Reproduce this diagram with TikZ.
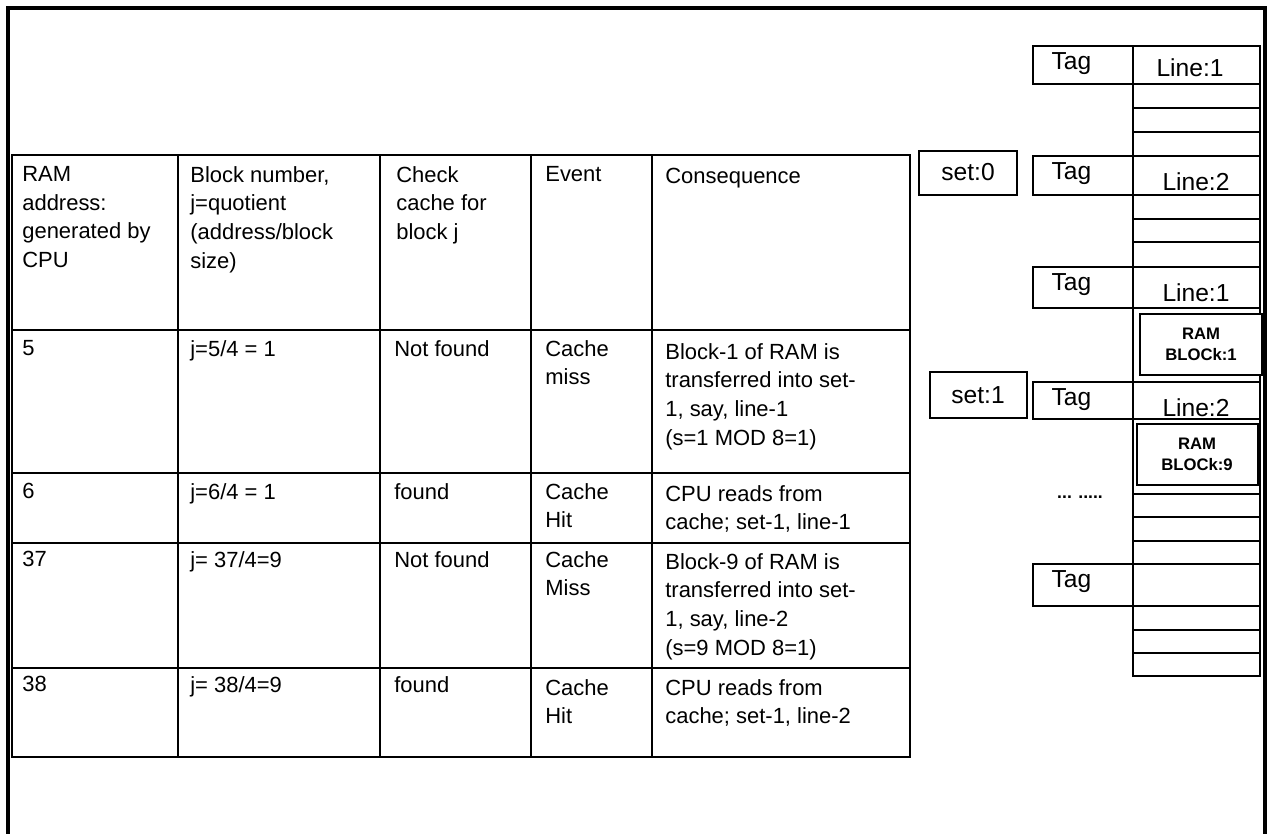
\documentclass[tikz,border=0pt]{standalone}
\usepackage{fontspec}
\setmainfont{Liberation Sans}
\begin{document}
\begin{tikzpicture}[x=0.02cm,y=-0.02cm,
  cell/.style={anchor=north west,align=left,inner sep=0pt,font=\fontsize{12.5}{16.3}\selectfont},
  lbl/.style={font=\fontsize{14}{16}\selectfont},
  small/.style={align=center,font=\fontsize{9.5}{12}\selectfont\bfseries}]

  \useasboundingbox (0,0) rectangle (1280,834);

  % frame
  \draw[line width=2pt] (8,834) -- (8,8) -- (1265,8) -- (1265,834);

  % table
  \draw[thick] (12,155) rectangle (910,757);
  \foreach \x in {178,380,531,652}
    \draw[thick] (\x,155) -- (\x,757);
  \foreach \y in {330,473,543,668}
    \draw[thick] (12,\y) -- (910,\y);

  \node[cell] (h1) at (22,166) {RAM\\address:\\generated by\\CPU};
  \node[cell] (h2) at (190,166) {Block number,\\j=quotient\\(address/block\\size)};
  \node[cell] (h3) at (396,166) {Check\\cache for\\block j};
  \node[cell] (h4) at (545,166) {Event};
  \node[cell] (h5) at (665,168) {Consequence};

  \node[cell] (a1) at (22,340) {5};
  \node[cell] (a2) at (190,340) {j=5/4 = 1};
  \node[cell] (a3) at (394,340) {Not found};
  \node[cell] (a4) at (545,340) {Cache\\miss};
  \node[cell] (a5) at (665,343) {Block-1 of RAM is\\transferred into set-\\1, say, line-1\\(s=1 MOD 8=1)};

  \node[cell] (b1) at (22,483) {6};
  \node[cell] (b2) at (190,483) {j=6/4 = 1};
  \node[cell] (b3) at (394,483) {found};
  \node[cell] (b4) at (545,483) {Cache\\Hit};
  \node[cell] (b5) at (665,485) {CPU reads from\\cache; set-1, line-1};

  \node[cell] (c1) at (22,551) {37};
  \node[cell] (c2) at (190,551) {j= 37/4=9};
  \node[cell] (c3) at (394,551) {Not found};
  \node[cell] (c4) at (545,551) {Cache\\Miss};
  \node[cell] (c5) at (665,553) {Block-9 of RAM is\\transferred into set-\\1, say, line-2\\(s=9 MOD 8=1)};

  \node[cell] (d1) at (22,676) {38};
  \node[cell] (d2) at (190,676) {j= 38/4=9};
  \node[cell] (d3) at (394,676) {found};
  \node[cell] (d4) at (545,679) {Cache\\Hit};
  \node[cell] (d5) at (665,679) {CPU reads from\\cache; set-1, line-2};

  % cache lines
  \draw[thick] (1133,46) rectangle (1260,676);
  \foreach \y in {84,108,132,156,195,219,242,267,308,382,419,494,517,541,564,606,630,653}
    \draw[thick] (1133,\y) -- (1260,\y);

  % tags
  \foreach \n/\t/\b in {t1/46/84,t2/156/195,t3/267/308,t4/382/419,t5/564/606}
    \draw[thick] (1033,\t) rectangle (1133,\b) node[lbl,anchor=north west] (\n) at (1045,\t) {Tag};

  \node[lbl] (l1) at (1190,68) {Line:1};
  \node[lbl] (l2) at (1196,182) {Line:2};
  \node[lbl] (l3) at (1196,293) {Line:1};
  \node[lbl] (l4) at (1196,408) {Line:2};

  % sets
  \draw[thick] (919,151) rectangle (1017,195);
  \node[lbl] (s0) at (968,172) {set:0};
  \draw[thick] (930,372) rectangle (1027,418);
  \node[lbl] (s1) at (978,395) {set:1};

  % ram blocks
  \draw[thick,fill=white] (1140,314) rectangle (1262,375);
  \node[small] (r1) at (1201,344) {RAM\\BLOCk:1};
  \draw[thick,fill=white] (1137,424) rectangle (1258,485);
  \node[small] (r9) at (1197,454) {RAM\\BLOCk:9};

  \node[font=\bfseries] (dots) at (1080,497) {... .....};

\end{tikzpicture}
\end{document}
